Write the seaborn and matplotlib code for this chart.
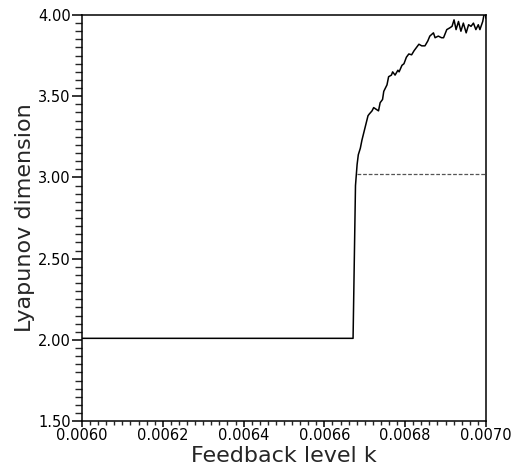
import numpy as np
import pandas as pd
import seaborn as sns
import matplotlib.pyplot as plt
from matplotlib.ticker import MultipleLocator, FormatStrFormatter

# ------------------------------- data ------------------------------- #
# solid branch: Lyapunov dimension vs feedback level k
k_solid = [0.006000, 0.006671, 0.006677, 0.006681, 0.006684, 0.006689, 0.006693,
           0.006697, 0.006703, 0.006708, 0.006711, 0.006718, 0.006722, 0.006728,
           0.006734, 0.006738, 0.006744, 0.006747, 0.006751, 0.006755, 0.006759,
           0.006766, 0.006769, 0.006775, 0.006782, 0.006785, 0.006792, 0.006797,
           0.006803, 0.006809, 0.006816, 0.006822, 0.006828, 0.006834, 0.006841,
           0.006849, 0.006856, 0.006861, 0.006870, 0.006874, 0.006882, 0.006890,
           0.006895, 0.006903, 0.006910, 0.006916, 0.006921, 0.006926, 0.006932,
           0.006938, 0.006944, 0.006951, 0.006957, 0.006963, 0.006969, 0.006975,
           0.006981, 0.006985, 0.006992, 0.006995, 0.006998, 0.007000]
d_solid = [2.01, 2.01, 2.95, 3.08, 3.14, 3.18, 3.23,
           3.27, 3.33, 3.38, 3.39, 3.41, 3.43, 3.42,
           3.41, 3.46, 3.48, 3.53, 3.55, 3.57, 3.62,
           3.63, 3.65, 3.63, 3.66, 3.65, 3.69, 3.70,
           3.74, 3.76, 3.755, 3.78, 3.80, 3.82, 3.81,
           3.81, 3.84, 3.87, 3.89, 3.86, 3.87, 3.86,
           3.86, 3.91, 3.92, 3.93, 3.97, 3.91, 3.96,
           3.90, 3.95, 3.89, 3.94, 3.93, 3.95, 3.91,
           3.94, 3.91, 3.96, 4.00, 4.02, 3.98]

# dashed branch
k_dash = [0.006680, 0.007000]
d_dash = [3.02, 3.02]

df_solid = pd.DataFrame({"k": k_solid, "D": d_solid})
df_dash = pd.DataFrame({"k": k_dash, "D": d_dash})

# ------------------------------ setting ------------------------------ #
sns.set_style("ticks")
plt.rcParams['font.family'] = ['DejaVu Sans']

fig = plt.figure(figsize=(5.11, 4.68), dpi=100)
ax = fig.add_axes([0.1605, 0.100, 0.7905, 0.868])

sns.lineplot(data=df_solid, x="k", y="D", ax=ax, color="black", lw=1.1,
             sort=False, estimator=None)
sns.lineplot(data=df_dash, x="k", y="D", ax=ax, color="#555555", lw=0.9,
             linestyle=(0, (3, 1.5)), sort=False, estimator=None)

ax.set_xlim(0.0060, 0.0070)
ax.set_ylim(1.5, 4.0)

ax.xaxis.set_major_locator(MultipleLocator(0.0002))
ax.xaxis.set_minor_locator(MultipleLocator(0.00002))
ax.yaxis.set_major_locator(MultipleLocator(0.5))
ax.yaxis.set_minor_locator(MultipleLocator(0.05))
ax.xaxis.set_major_formatter(FormatStrFormatter('%.4f'))
ax.yaxis.set_major_formatter(FormatStrFormatter('%.2f'))

ax.tick_params(which='major', direction='out', width=1.1,
               labelsize=10.5, colors='black', pad=1)
ax.tick_params(axis='y', which='major', length=7)
ax.tick_params(axis='y', which='minor', direction='out', length=5, width=1.0)
ax.tick_params(axis='x', which='major', length=4)
ax.tick_params(axis='x', which='minor', direction='out', length=3, width=1.0)

for s in ax.spines.values():
    s.set_linewidth(1.1)
    s.set_color('black')

ax.set_xlabel("Feedback level k", fontsize=16, labelpad=2)
ax.set_ylabel("Lyapunov dimension", fontsize=16, labelpad=2)

plt.savefig("out.png", dpi=100)
